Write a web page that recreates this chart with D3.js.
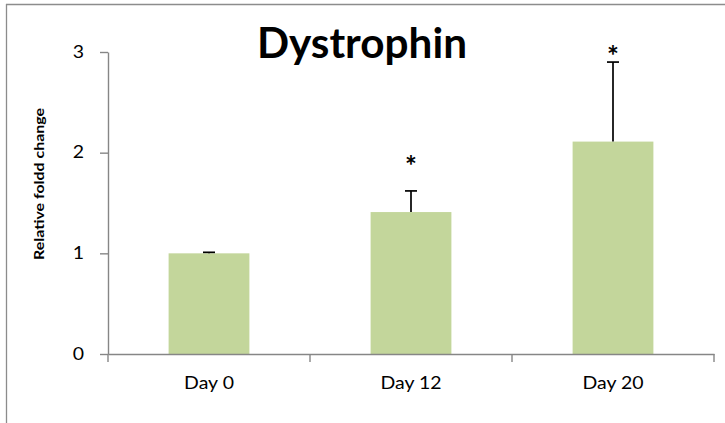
<!DOCTYPE html>
<html>
<head>
<meta charset="utf-8">
<script src="https://cdn.jsdelivr.net/npm/d3@7"></script>
<style>
  html, body { margin: 0; padding: 0; background: #fff; }
  svg { display: block; }
  text { font-family: Lato, "Open Sans", "DejaVu Sans", sans-serif; }
</style>
</head>
<body>
<svg id="chart" width="725" height="423"></svg>
<script>
const categories = ["Day 0", "Day 12", "Day 20"];
const values = [1.00, 1.41, 2.11];
const errors = [0.01, 0.21, 0.79];
const stars = ["", "*", "*"];
const starLevels = [null, 1.92, 3.01];
const yTicks = [0, 1, 2, 3];
const title = "Dystrophin";
const yTitle = "Relative foldd change";

const svg = d3.select("#chart");
const W = 725, H = 423;
const plot = { left: 108, right: 714, top: 52, bottom: 354 };
const stretch = 1.18;

svg.append("rect").attr("width", W).attr("height", H).attr("fill", "#fff");

// outer chart-area border (only top and left visible)
svg.append("line").attr("x1", 6).attr("x2", W).attr("y1", 4.5).attr("y2", 4.5)
  .attr("stroke", "#8c8c8c").attr("stroke-width", 1.3);
svg.append("line").attr("x1", 6.5).attr("x2", 6.5).attr("y1", 4).attr("y2", H)
  .attr("stroke", "#8c8c8c").attr("stroke-width", 1.3);

const x = d3.scaleBand().domain(categories)
  .range([plot.left, plot.right]).paddingInner(0.6).paddingOuter(0.3);
const y = d3.scaleLinear().domain([0, 3]).range([plot.bottom, plot.top]);

const axisColor = "#868686";

function widen(sel) {
  sel.each(function () {
    const w = this.getComputedTextLength();
    d3.select(this).attr("textLength", w * stretch).attr("lengthAdjust", "spacingAndGlyphs");
  });
}

// bars
svg.append("g").selectAll("rect").data(categories).join("rect")
  .attr("x", d => x(d))
  .attr("width", x.bandwidth())
  .attr("y", (d, i) => y(values[i]))
  .attr("height", (d, i) => y(0) - y(values[i]))
  .attr("fill", "#c3d69b");

// y axis
const yAxis = svg.append("g").attr("transform", `translate(${plot.left},0)`)
  .call(d3.axisLeft(y).tickValues(yTicks).tickFormat(d3.format("d"))
    .tickSize(8).tickSizeOuter(0).tickPadding(16));
yAxis.select(".domain").attr("stroke", axisColor).attr("stroke-width", 1.4);
yAxis.selectAll(".tick line").attr("stroke", axisColor).attr("stroke-width", 1.4);
yAxis.selectAll(".tick text").attr("fill", "#000").attr("font-size", 16.5)
  .style("font-family", "Lato, sans-serif").call(widen);

// x axis: line + boundary ticks + labels
const xAxis = svg.append("g").attr("transform", `translate(0,${plot.bottom})`)
  .call(d3.axisBottom(x).tickSize(0).tickSizeOuter(0).tickPadding(23));
xAxis.select(".domain").attr("stroke", axisColor).attr("stroke-width", 1.4);
xAxis.selectAll(".tick text").attr("fill", "#000").attr("font-size", 16.5)
  .style("font-family", "Lato, sans-serif").call(widen);
const boundaries = d3.range(categories.length + 1)
  .map(i => x.range()[0] + i * x.step());
xAxis.selectAll("line.bound").data(boundaries).join("line").attr("class", "bound")
  .attr("x1", d => d).attr("x2", d => d).attr("y1", 0).attr("y2", 8)
  .attr("stroke", axisColor).attr("stroke-width", 1.4);

// error bars
const eb = svg.append("g").attr("stroke", "#000").attr("stroke-width", 1.7);
categories.forEach((c, i) => {
  const cx = x(c) + x.bandwidth() / 2;
  eb.append("line").attr("x1", cx).attr("x2", cx)
    .attr("y1", y(values[i])).attr("y2", y(values[i] + errors[i]));
  eb.append("line").attr("x1", cx - 6).attr("x2", cx + 6)
    .attr("y1", y(values[i] + errors[i])).attr("y2", y(values[i] + errors[i]));
});

// significance stars
svg.append("g").selectAll("text").data(categories).join("text")
  .filter((d, i) => stars[i] !== "")
  .attr("x", d => x(d) + x.bandwidth() / 2)
  .attr("y", d => y(starLevels[categories.indexOf(d)]) + 15)
  .attr("text-anchor", "middle")
  .attr("font-size", 28).attr("font-weight", "bold")
  .text(d => stars[categories.indexOf(d)]);

// title
svg.append("text").attr("x", 362).attr("y", 58).attr("text-anchor", "middle")
  .attr("font-size", 42).attr("font-weight", "bold")
  .attr("textLength", 210).attr("lengthAdjust", "spacingAndGlyphs")
  .text(title);

// y title
svg.append("text").attr("transform", "translate(44,184) rotate(-90)")
  .attr("text-anchor", "middle").attr("font-size", 14).attr("font-weight", "bold")
  .attr("textLength", 152).attr("lengthAdjust", "spacingAndGlyphs")
  .text(yTitle);
</script>
</body>
</html>
